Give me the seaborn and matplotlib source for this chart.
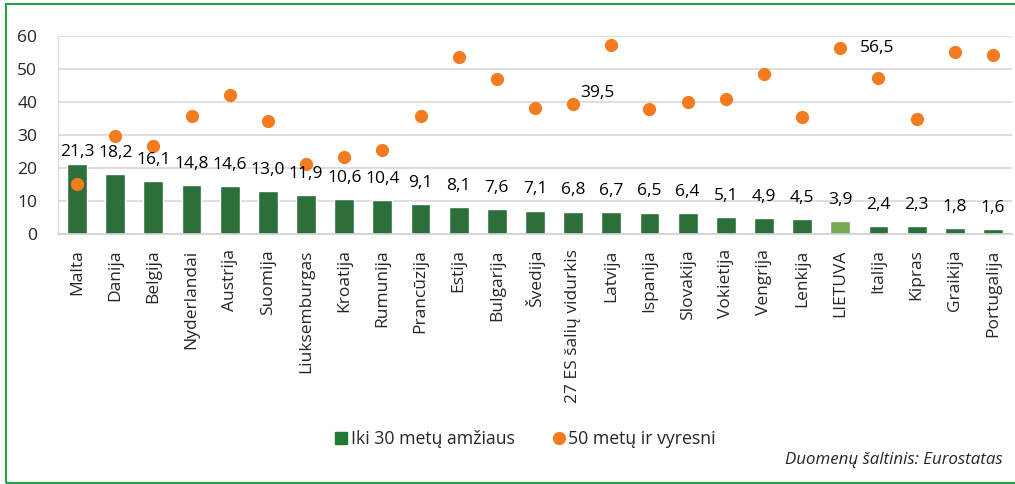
import matplotlib
matplotlib.use("Agg")
import matplotlib.pyplot as plt
import seaborn as sns
from matplotlib.lines import Line2D
from matplotlib.patches import Rectangle

# Duomenys
salys = ["Malta", "Danija", "Belgija", "Nyderlandai", "Austrija", "Suomija",
         "Liuksemburgas", "Kroatija", "Rumunija", "Prancūzija", "Estija",
         "Bulgarija", "Švedija", "27 ES šalių vidurkis", "Latvija", "Ispanija",
         "Slovakija", "Vokietija", "Vengrija", "Lenkija", "LIETUVA", "Italija",
         "Kipras", "Graikija", "Portugalija"]
iki_30 = [21.3, 18.2, 16.1, 14.8, 14.6, 13.0, 11.9, 10.6, 10.4, 9.1, 8.1,
          7.6, 7.1, 6.8, 6.7, 6.5, 6.4, 5.1, 4.9, 4.5, 3.9, 2.4, 2.3, 1.8, 1.6]
virs_50 = [15.2, 29.8, 26.8, 35.7, 42.1, 34.1, 21.1, 23.3, 25.6, 35.9, 53.5,
           47.0, 38.2, 39.5, 57.2, 37.9, 39.9, 41.0, 48.4, 35.6, 56.5, 47.3,
           34.9, 55.2, 54.2]
pazymeti = {"27 ES šalių vidurkis": "39,5", "LIETUVA": "56,5"}

# Pažymėtų taškų etikečių poslinkiai (taškais)
poslinkiai = {"27 ES šalių vidurkis": (5, 8), "LIETUVA": (14, 0)}

ZALIA = "#217a33"
SVIESIAI_ZALIA = "#72b843"
ORANZINE = "#f47b20"

sns.set_style("white")
plt.rcParams["font.family"] = ["Open Sans", "DejaVu Sans"]

fig = plt.figure(figsize=(10.15, 4.84), dpi=100)
ax = fig.add_axes([58 / 1015, 1 - 234 / 484, 954 / 1015, 198 / 484])

spalvos = [SVIESIAI_ZALIA if s == "LIETUVA" else ZALIA for s in salys]
sns.barplot(x=salys, y=iki_30, hue=salys, palette=spalvos, legend=False,
            width=0.52, ax=ax, zorder=2)
sns.stripplot(x=salys, y=virs_50, jitter=False, color=ORANZINE, size=9.5,
              linewidth=0, ax=ax, zorder=3)

# Stulpelių reikšmės (virš stulpelio, bet ne aukščiau 24,7)
for i, v in enumerate(iki_30):
    ax.text(i, min(v + 6.4, 24.7), f"{v:.1f}".replace(".", ","),
            ha="center", va="center", fontsize=12.5, color="black")

# Pažymėti taškai
for i, s in enumerate(salys):
    if s in pazymeti:
        ax.annotate(pazymeti[s], (i, virs_50[i]), xytext=poslinkiai[s],
                    textcoords="offset points", ha="left", va="center",
                    fontsize=12.5, color="black")

ax.set_ylim(0, 60)
ax.set_xlim(-0.5, len(salys) - 0.5)
ax.set_yticks(range(0, 61, 10))
ax.tick_params(axis="y", labelsize=12.5, length=0, pad=15)
ax.tick_params(axis="x", labelsize=12.5, length=0, pad=11, rotation=90)
ax.set_xlabel("")
ax.set_ylabel("")
ax.yaxis.grid(True, color="#d9d9d9", linewidth=1.2, zorder=0)
ax.set_axisbelow(True)
for k in ["top", "right"]:
    ax.spines[k].set_visible(False)
ax.spines["left"].set_color("#d9d9d9")
ax.spines["bottom"].set_color("#d0d0d0")
ax.spines["bottom"].set_linewidth(1.2)

# Legenda
rankenos = [
    Line2D([], [], marker="s", linestyle="none", markersize=8,
           markerfacecolor=ZALIA, markeredgecolor=ZALIA,
           label="Iki 30 metų amžiaus"),
    Line2D([], [], marker="o", linestyle="none", markersize=8.5,
           markerfacecolor=ORANZINE, markeredgecolor=ORANZINE,
           label="50 metų ir vyresni"),
]
fig.legend(handles=rankenos, loc="center", bbox_to_anchor=(524 / 1015, 1 - 439 / 484),
           ncol=2, frameon=False, fontsize=12.7, handletextpad=0.05,
           columnspacing=2.0, handlelength=1.0)

fig.text(1003 / 1015, 1 - 460 / 484, "Duomenų šaltinis: Eurostatas",
         ha="right", va="center", fontsize=12.2, style="italic")

# Rėmelis
fig.patches.append(Rectangle((6 / 1015, 1 / 484), 1.0, 1 - 5 / 484,
                             transform=fig.transFigure, fill=False,
                             edgecolor="#1fa24a", linewidth=1.5))

fig.savefig("out.png", dpi=100)
